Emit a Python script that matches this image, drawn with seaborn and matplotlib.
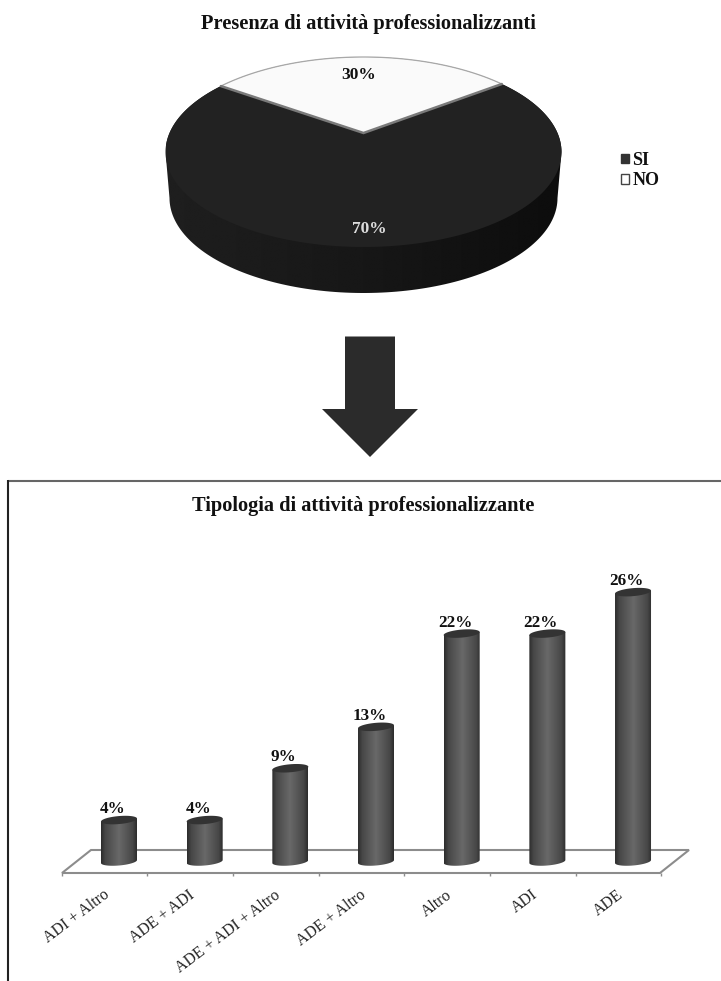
import numpy as np
import pandas as pd
import matplotlib
matplotlib.use("Agg")
import matplotlib.pyplot as plt
import seaborn as sns
from matplotlib.path import Path
from matplotlib.patches import PathPatch, Polygon, Patch
from matplotlib.transforms import ScaledTranslation

# Chart content
pie_labels = ["SI", "NO"]
pie_values = [70, 30]
pie_title = "Presenza di attività professionalizzanti"

categories = ["ADI + Altro", "ADE + ADI", "ADE + ADI + Altro", "ADE + Altro", "Altro", "ADI", "ADE"]
shares = [4, 4, 9, 13, 22, 22, 26]
bar_title = "Tipologia di attività professionalizzante"

sns.set_theme(style="white")
plt.rcParams["font.family"] = ["Liberation Serif", "DejaVu Serif"]

W, H = 721, 981
fig = plt.figure(figsize=(W / 100, H / 100), dpi=100, facecolor="white")

# Page-level canvas measured in pixels, used for the pie, arrow and frame
canvas = fig.add_axes([0, 0, 1, 1])
canvas.set_axis_off()

INK = "#111111"


def disc_point(theta_deg):
    """Project a point on the pie rim into page space with a perspective tilt."""
    t = np.radians(theta_deg)
    u, v = np.cos(t), np.sin(t)
    k, a, b = 0.2, 194.0, 91.2
    w = 1 + k * v
    return np.column_stack((363.5 + a * u / w, 133.0 - b * v / w))


def horizontal_fill(ax, patch, extent, levels, cmap_vals):
    """Fill a clipping patch with a left-to-right grey ramp."""
    xs = np.linspace(0, 1, 256)
    ramp = np.interp(xs, levels, cmap_vals)[None, :]
    im = ax.imshow(ramp, extent=extent, aspect="auto", cmap="gray", vmin=0, vmax=1,
                   interpolation="bilinear", zorder=patch.get_zorder())
    ax.add_patch(patch)
    patch.set_facecolor("none")
    patch.set_edgecolor("none")
    im.set_clip_path(patch)
    return im


# Pie wall: outline of the lower rim joined to the upper half of the top face
cx, cy, rx, ry, depth = 363.5, 152.0, 198.0, 95.0, 46.0
t_low = np.radians(np.linspace(180, 360, 120))
t_up = np.radians(np.linspace(0, 180, 120))
wall_low = np.column_stack((cx + (rx - 4) * np.cos(t_low), cy + depth - ry * np.sin(t_low)))
wall_up = np.column_stack((cx + rx * np.cos(t_up), cy - ry * np.sin(t_up)))
wall = Polygon(np.vstack((wall_low, wall_up)), closed=True, zorder=1)
horizontal_fill(canvas, wall, (cx - rx, cx + rx, cy + depth + ry, cy - ry),
                [0, 0.5, 1], [0.12, 0.09, 0.05])

# Pie slices on the top face, sized from the values
no_span = 360 * pie_values[1] / sum(pie_values)
si_span = 360 * pie_values[0] / sum(pie_values)
no_mid = 91.0
no_start = no_mid - no_span / 2
apex = np.array([363.5, 133.0])

si_rim = disc_point(np.linspace(no_start + no_span, no_start + no_span + si_span, 240))
canvas.add_patch(Polygon(np.vstack((apex, si_rim)), closed=True, fc="#222222", ec="none", zorder=2))
no_rim = disc_point(np.linspace(no_start, no_start + no_span, 120))
canvas.add_patch(Polygon(np.vstack((apex, no_rim)), closed=True, fc="#fafafa", ec="none", zorder=3))
canvas.plot(no_rim[:, 0], no_rim[:, 1], color="#a8a8a8", lw=0.9, zorder=4)
cut = np.vstack((no_rim[0], apex, no_rim[-1]))
canvas.plot(cut[:, 0], cut[:, 1], color="#7a7a7a", lw=1.8, solid_joinstyle="miter", zorder=4)

canvas.text(359, 75, f"{pie_values[1]}%", ha="center", va="center", fontsize=12.5,
            fontweight="bold", color=INK, zorder=5)
canvas.text(369, 229, f"{pie_values[0]}%", ha="center", va="center", fontsize=12.5,
            fontweight="bold", color="#dddddd", zorder=5)
canvas.text(368, 24, pie_title, ha="center", va="center", fontsize=14.7,
            fontweight="bold", color=INK)

handles = [Patch(fc="#333333", ec="#333333"), Patch(fc="white", ec="#444444", lw=1.0)]
canvas.legend(handles, pie_labels, loc="center left", bbox_to_anchor=(621, 170.5),
              bbox_transform=canvas.transData, frameon=False, handlelength=0.42, handleheight=0.42,
              handletextpad=0.22, labelspacing=0.2, borderpad=0, borderaxespad=0,
              prop={"weight": "bold", "size": 13}, labelcolor=INK)

# Down arrow between the two panels
arrow = [(345, 336.5), (395, 336.5), (395, 409), (418, 409), (370, 457), (322, 409), (345, 409)]
canvas.add_patch(Polygon(arrow, closed=True, fc="#2b2b2b", ec="none"))

# Frame of the lower panel: top and left rules only
canvas.plot([8, W], [480.5, 480.5], color="#666666", lw=1.5, solid_capstyle="butt")
canvas.plot([8, 8], [480, H], color="#222222", lw=1.5, solid_capstyle="butt")
canvas.text(363, 506, bar_title, ha="center", va="center", fontsize=14.7,
            fontweight="bold", color=INK)

# Sheared floor under the cylinders
floor_front_y, floor_back_y = 873.0, 850.0
floor_left, floor_right, shear = 62.0, 660.0, 29.0
floor = [(floor_left, floor_front_y), (floor_right, floor_front_y),
         (floor_right + shear, floor_back_y), (floor_left + shear, floor_back_y)]
canvas.add_patch(Polygon(floor, closed=True, fc="white", ec="#8c8c8c", lw=1.5, zorder=1))

canvas.set_xlim(0, W)
canvas.set_ylim(H, 0)

# Bar panel: one category step is 85.67 px, one percentage point 10.36 px
STEP_PX, UNIT_PX = 85.67, 10.36
BASE_PX, AXIS_PX, TOP_PX = 861.5, floor_front_y, 510.0
left_px = 119 - STEP_PX / 2
ax = fig.add_axes([left_px / W, 1 - AXIS_PX / H, 7 * STEP_PX / W, (AXIS_PX - TOP_PX) / H])
ax.patch.set_alpha(0)

frame = pd.DataFrame({"categoria": categories, "quota": shares})
sns.barplot(data=frame, x="categoria", y="quota", order=categories, width=36 / STEP_PX,
            color="#4a4a4a", saturation=1, ax=ax, zorder=3)

ylim = (-(AXIS_PX - BASE_PX) / UNIT_PX, (BASE_PX - TOP_PX) / UNIT_PX)
xlim = (-0.5, 6.5)

# Cylinder shading over each bar
for bar, value in zip(list(ax.patches), shares):
    x0, w = bar.get_x(), bar.get_width()
    xc = x0 + w / 2
    bar.set_visible(False)
    t = np.linspace(0, 2 * np.pi, 120)
    half_w = w / 2
    ell_h = 4.0 / UNIT_PX
    tilt = 1.5 / UNIT_PX
    ex = xc + half_w * np.cos(t)
    ey_top = value + ell_h * np.sin(t) + tilt * np.cos(t)
    lower = t[60:]
    body = np.vstack((
        np.column_stack((xc + half_w * np.cos(lower), ell_h * np.sin(lower) + tilt * np.cos(lower))),
        [[xc + half_w, value + tilt]], [[xc - half_w, value - tilt]],
    ))
    body_patch = PathPatch(Path(np.vstack((body, body[0])), closed=True), transform=ax.transData,
                           clip_on=False, zorder=3)
    im = horizontal_fill(ax, body_patch, (xc - half_w, xc + half_w, -1, value + 1),
                         [0, 0.12, 0.5, 0.88, 1], [0.17, 0.28, 0.41, 0.28, 0.17])
    im.set_clip_path(body_patch)
    ax.fill(ex, ey_top, color="#333333", lw=0, zorder=4, clip_on=False)
    ax.annotate(f"{value}%", (xc, value), xytext=(-4.7, 5), textcoords="offset points",
                ha="center", va="baseline", fontsize=12.3, fontweight="bold", color=INK,
                annotation_clip=False)

ax.set_xlim(*xlim)
ax.set_ylim(*ylim)
ax.set_xlabel("")
ax.set_ylabel("")
ax.set_yticks([])
sns.despine(ax=ax, left=True, bottom=True)

# Axis labels and tick marks sit on the front edge of the floor
shift = ScaledTranslation(-shear / 2 / 100, 0, fig.dpi_scale_trans)
label_shift = ScaledTranslation((-shear / 2 - 2) / 100, 0, fig.dpi_scale_trans)
ax.set_xticks(np.arange(len(categories)))
ax.set_xticklabels(categories, rotation=37, ha="right", va="top", rotation_mode="anchor",
                   fontsize=11.4, color="#222222")
ax.tick_params(axis="x", which="major", length=0, pad=10)
for label in ax.get_xticklabels():
    label.set_transform(label.get_transform() + label_shift)
ax.set_xticks(np.arange(len(categories) + 1) - 0.5, minor=True)
ax.tick_params(axis="x", which="minor", length=2.5, width=1, color="#8c8c8c", bottom=True)
for tick in ax.xaxis.get_minor_ticks():
    tick.tick1line.set_transform(tick.tick1line.get_transform() + shift)

fig.savefig("out.png", dpi=100, facecolor="white")
